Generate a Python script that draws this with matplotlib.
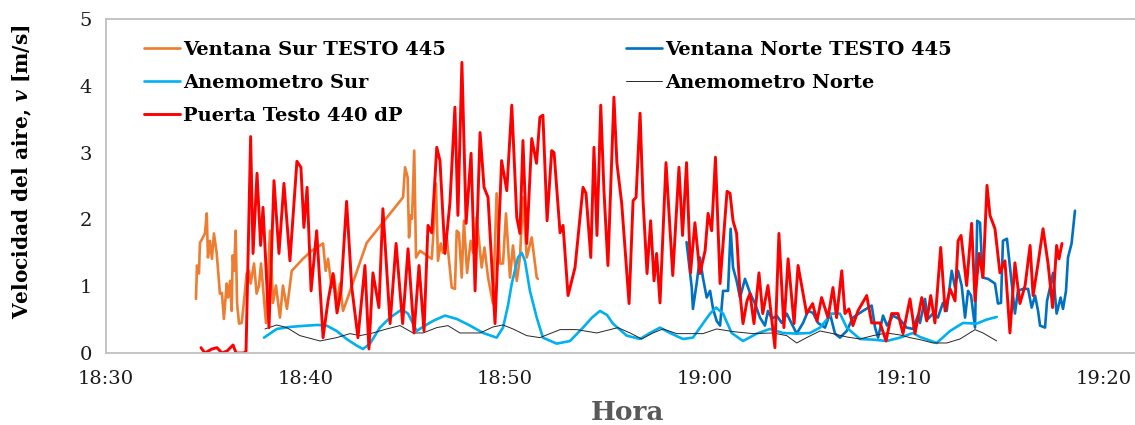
import matplotlib.pyplot as plt

# Time axis: minutes after 18:30
tick_minutes = [0, 10, 20, 30, 40, 50]
tick_labels = ["18:30", "18:40", "18:50", "19:00", "19:10", "19:20"]

# Ventana Sur TESTO 445
t_vsur = [4.51, 4.56, 4.66, 4.71, 4.86, 4.96, 5.05, 5.11, 5.21, 5.31, 5.41, 5.55, 5.71, 5.81,
          5.91, 6.05, 6.12, 6.22, 6.30, 6.35, 6.42, 6.50, 6.57, 6.67, 6.80, 6.92, 7.05, 7.17,
          7.25, 7.42, 7.55, 7.67, 7.77, 8.02, 8.22, 8.37, 8.52, 8.72, 8.87, 9.07, 9.31, 9.56,
          9.87, 10.31, 10.73, 10.88, 11.01, 11.13, 11.31, 11.43, 11.58, 11.73, 11.88, 12.06,
          13.07, 14.89, 14.99, 15.12, 15.19, 15.27, 15.34, 15.45, 15.54, 15.74, 16.08, 16.33,
          16.44, 16.54, 16.64, 16.78, 16.89, 17.08, 17.33, 17.49, 17.58, 17.69, 17.83, 17.94,
          18.10, 18.28, 18.40, 18.58, 18.83, 18.97, 19.15, 19.40, 19.58, 19.75, 19.90, 20.05,
          20.25, 20.40, 20.59, 20.75, 20.90, 21.09, 21.34, 21.59, 21.65]
v_vsur = [0.81, 1.31, 1.19, 1.65, 1.73, 1.79, 2.09, 1.43, 1.68, 1.41, 1.79, 1.49, 0.89, 0.90,
          0.51, 1.04, 0.83, 1.08, 0.63, 1.46, 1.23, 1.83, 0.74, 0.44, 0.45, 0.78, 1.19, 1.23,
          1.04, 1.34, 0.89, 1.01, 1.34, 0.45, 1.83, 0.75, 1.01, 0.53, 1.01, 0.66, 1.23, 1.31,
          1.41, 1.53, 1.61, 1.64, 1.23, 1.41, 0.98, 1.16, 0.74, 1.04, 0.63, 0.78,
          1.65, 2.33, 2.78, 2.63, 1.73, 2.06, 2.01, 3.03, 1.43, 1.53, 1.46, 1.41,
          1.94, 2.54, 1.38, 1.64, 1.50, 1.73, 0.98, 0.96, 1.83, 1.80, 1.13, 1.98,
          1.20, 1.68, 1.50, 2.03, 1.28, 1.58, 1.13, 0.74, 2.39, 1.34, 1.34, 2.09,
          1.13, 1.61, 1.08, 1.43, 2.33, 1.43, 1.73, 1.13, 1.11]

# Ventana Norte TESTO 445
t_vnorte = [29.10, 29.36, 29.42, 29.61, 29.77, 29.92, 30.11, 30.28, 30.43, 30.61, 30.78, 30.93,
            31.18, 31.31, 31.43, 31.61, 31.78, 32.03, 32.28, 32.53, 32.78, 33.03, 33.18, 33.38,
            33.62, 33.87, 34.12, 34.37, 34.62, 34.94, 35.19, 35.44, 35.69, 36.04, 36.29, 36.54,
            36.79, 37.13, 37.44, 37.94, 38.38, 38.55, 38.70, 38.95, 39.15, 39.45, 39.80, 40.13,
            40.45, 40.70, 40.80, 41.05, 41.20, 41.45, 41.70, 41.95, 42.14, 42.39, 42.56, 42.71,
            42.89, 43.06, 43.21, 43.36, 43.56, 43.67, 43.81, 43.94, 44.21, 44.56, 44.71, 44.86,
            44.96, 45.16, 45.40, 45.56, 45.71, 45.96, 46.22, 46.40, 46.57, 46.72, 46.82, 47.07,
            47.17, 47.32, 47.47, 47.65, 47.85, 47.97, 48.12, 48.22, 48.40, 48.57]
v_vnorte = [1.66, 0.98, 0.66, 1.05, 1.43, 1.13, 0.83, 0.93, 0.66, 0.48, 0.41, 0.93,
            0.93, 1.86, 1.28, 1.08, 0.83, 1.11, 0.90, 0.74, 0.53, 0.41, 0.63, 0.51,
            0.56, 0.45, 0.59, 0.44, 0.29, 0.45, 0.63, 0.60, 0.45, 0.38, 0.59, 0.29,
            0.23, 0.33, 0.53, 0.63, 0.71, 0.38, 0.23, 0.56, 0.41, 0.56, 0.50, 0.38,
            0.36, 0.56, 0.45, 0.81, 0.51, 0.59, 0.53, 0.75, 0.63, 1.23, 0.98, 1.23,
            1.01, 0.53, 0.93, 0.86, 0.38, 1.98, 1.95, 1.13, 1.11, 1.04, 0.74, 0.75,
            1.68, 1.71, 1.04, 0.59, 0.93, 0.96, 0.96, 0.68, 0.86, 0.63, 0.41, 0.38,
            0.78, 0.98, 1.20, 0.59, 0.83, 0.66, 0.93, 1.43, 1.64, 2.13]

# Anemometro Sur
t_asur = [7.92, 8.56, 9.22, 10.06, 10.63, 11.06, 11.56, 12.06, 12.57, 12.88, 13.23, 13.73,
          14.24, 14.82, 15.14, 15.57, 15.99, 16.39, 16.99, 17.58, 18.25, 18.90, 19.58, 19.90,
          20.15, 20.34, 20.65, 20.84, 21.00, 21.25, 21.59, 21.90, 22.59, 23.26, 23.91, 24.36,
          24.76, 25.11, 25.41, 26.10, 26.77, 27.27, 27.77, 28.27, 28.92, 29.42, 29.92, 30.28,
          30.58, 30.93, 31.36, 31.93, 32.62, 33.28, 33.93, 34.62, 35.29, 35.79, 36.38, 36.79,
          37.13, 37.79, 38.45, 39.13, 39.80, 40.45, 40.80, 41.64, 42.31, 42.96, 43.64, 44.14,
          44.65]
v_asur = [0.23, 0.36, 0.39, 0.41, 0.42, 0.41, 0.33, 0.21, 0.11, 0.06, 0.14, 0.38,
          0.53, 0.65, 0.59, 0.33, 0.41, 0.48, 0.56, 0.51, 0.41, 0.30, 0.23, 0.38,
          0.71, 1.04, 1.43, 1.50, 1.38, 0.93, 0.53, 0.23, 0.14, 0.18, 0.38, 0.53,
          0.63, 0.57, 0.44, 0.26, 0.21, 0.30, 0.38, 0.30, 0.21, 0.23, 0.44, 0.59,
          0.68, 0.59, 0.30, 0.18, 0.29, 0.36, 0.30, 0.29, 0.30, 0.38, 0.59, 0.59,
          0.38, 0.21, 0.20, 0.18, 0.23, 0.30, 0.24, 0.15, 0.33, 0.45, 0.44, 0.50,
          0.54]

# Anemometro Norte
t_anorte = [7.97, 8.56, 9.06, 9.72, 10.73, 11.56, 12.23, 12.73, 13.38, 14.07, 14.74, 15.39,
            15.89, 16.58, 17.14, 17.74, 18.75, 19.40, 19.90, 20.40, 21.09, 21.75, 22.76, 23.59,
            24.60, 25.66, 26.27, 26.85, 27.42, 27.92, 28.61, 29.27, 29.92, 30.61, 31.43, 32.43,
            33.43, 34.12, 34.62, 35.12, 35.79, 36.44, 37.13, 37.79, 38.45, 39.13, 39.80, 40.30,
            40.80, 41.45, 42.14, 42.81, 43.56, 43.96, 44.65]
v_anorte = [0.36, 0.42, 0.38, 0.26, 0.18, 0.23, 0.29, 0.26, 0.30, 0.36, 0.41, 0.30,
            0.30, 0.38, 0.41, 0.30, 0.30, 0.39, 0.42, 0.36, 0.26, 0.23, 0.35, 0.35,
            0.30, 0.38, 0.30, 0.21, 0.30, 0.36, 0.29, 0.29, 0.29, 0.36, 0.32, 0.29,
            0.30, 0.26, 0.15, 0.23, 0.33, 0.29, 0.24, 0.21, 0.26, 0.30, 0.27, 0.23,
            0.20, 0.15, 0.15, 0.21, 0.35, 0.30, 0.18]

# Puerta Testo 440 dP
t_puerta = [4.76, 4.96, 5.31, 5.56, 5.81, 6.07, 6.37, 6.52, 6.92, 7.02, 7.25, 7.37, 7.57, 7.75,
            7.87, 8.17, 8.42, 8.67, 8.92, 9.22, 9.57, 9.77, 9.92, 10.08, 10.28, 10.56, 10.88,
            11.13, 11.38, 11.58, 11.78, 12.06, 12.32, 12.63, 12.98, 13.18, 13.38, 13.68, 13.88,
            14.24, 14.54, 14.87, 15.14, 15.44, 15.69, 15.94, 16.14, 16.33, 16.58, 16.74, 16.99,
            17.24, 17.49, 17.64, 17.84, 18.05, 18.30, 18.50, 18.75, 18.95, 19.15, 19.50, 19.83,
            20.09, 20.34, 20.59, 20.75, 20.90, 21.09, 21.34, 21.58, 21.75, 21.90, 22.11, 22.34,
            22.46, 22.76, 22.91, 23.16, 23.51, 23.91, 24.06, 24.30, 24.46, 24.61, 24.80, 24.96,
            25.16, 25.46, 25.61, 25.85, 26.22, 26.42, 26.57, 26.77, 26.92, 27.12, 27.30, 27.47,
            27.60, 27.77, 28.07, 28.41, 28.72, 28.90, 29.10, 29.30, 29.52, 29.77, 30.03, 30.18,
            30.36, 30.55, 30.78, 31.13, 31.28, 31.43, 31.61, 31.78, 31.93, 32.13, 32.28, 32.48,
            32.73, 32.92, 33.18, 33.53, 33.73, 33.98, 34.19, 34.49, 34.69, 35.12, 35.42, 35.64,
            35.87, 36.19, 36.44, 36.62, 36.88, 37.04, 37.24, 37.44, 37.69, 38.13, 38.38, 38.80,
            39.10, 39.38, 39.70, 39.95, 40.30, 40.55, 40.89, 41.14, 41.34, 41.55, 41.84, 42.06,
            42.31, 42.56, 42.71, 42.86, 43.14, 43.39, 43.56, 43.76, 43.96, 44.16, 44.31, 44.56,
            44.81, 45.06, 45.31, 45.56, 45.81, 46.07, 46.32, 46.47, 46.72, 46.97, 47.22, 47.45,
            47.65, 47.77, 47.92]
v_puerta = [0.08, 0.00, 0.06, 0.08, 0.00, 0.03, 0.12, 0.00, 0.00, 0.03, 3.24, 1.49, 2.69, 1.61,
            2.18, 0.38, 2.58, 1.49, 2.54, 1.38, 2.87, 2.78, 1.88, 2.48, 0.93, 1.83, 0.23,
            0.78, 1.19, 0.60, 0.93, 2.27, 0.98, 0.23, 1.31, 0.06, 1.20, 0.68, 2.16,
            0.44, 1.64, 0.44, 1.56, 0.30, 1.31, 0.33, 1.91, 1.80, 3.08, 2.88, 1.49,
            2.25, 3.68, 2.06, 4.35, 1.94, 2.99, 0.93, 3.30, 2.48, 2.33, 0.44, 2.88,
            2.43, 3.71, 2.03, 1.79, 3.18, 1.64, 3.21, 2.84, 3.53, 3.56, 1.98, 3.03,
            3.00, 1.80, 1.91, 0.86, 1.28, 2.48, 2.39, 1.43, 3.08, 1.76, 3.71, 2.43,
            1.31, 3.83, 2.84, 2.24, 0.74, 2.28, 2.33, 3.59, 2.28, 1.19, 1.98, 1.08,
            1.49, 0.75, 2.85, 1.16, 2.78, 1.76, 2.85, 1.20, 1.95, 1.19, 1.53, 2.09,
            1.83, 2.93, 1.04, 2.42, 2.39, 1.98, 1.79, 0.89, 0.44, 0.78, 0.89, 0.44,
            1.20, 0.59, 1.01, 0.08, 1.79, 0.38, 1.41, 0.44, 1.31, 0.59, 0.74, 0.48,
            0.83, 0.53, 0.98, 0.53, 1.23, 0.59, 0.66, 0.41, 0.63, 0.86, 0.45, 0.45,
            0.18, 0.59, 0.59, 0.29, 0.81, 0.29, 0.83, 0.48, 0.86, 0.45, 1.58, 0.63,
            0.96, 0.78, 1.68, 1.76, 1.01, 1.94, 0.78, 1.49, 1.13, 2.51, 2.06, 1.86,
            1.20, 1.38, 0.30, 1.35, 0.74, 1.01, 1.61, 0.86, 1.34, 1.86, 1.34, 0.68,
            1.61, 1.41, 1.64]

plt.rcParams["font.family"] = ["DejaVu Serif"]
plt.rcParams["mathtext.fontset"] = "dejavuserif"

fig = plt.figure(figsize=(11.35, 4.25), dpi=100)
W, H = 1135, 425
x0, x1, y_top, y_bot = 106, 1135, 19, 353
ax = fig.add_axes([x0 / W, (H - y_bot) / H, (x1 - x0) / W, (y_bot - y_top) / H])

line_kw = dict(solid_joinstyle="round", solid_capstyle="round")
l_vsur, = ax.plot(t_vsur, v_vsur, color="#ED7D31", lw=1.9, **line_kw)
l_vnorte, = ax.plot(t_vnorte, v_vnorte, color="#0070C0", lw=1.9, **line_kw)
l_asur, = ax.plot(t_asur, v_asur, color="#00B0F0", lw=1.9, **line_kw)
l_anorte, = ax.plot(t_anorte, v_anorte, color="#262626", lw=0.7, **line_kw)
l_puerta, = ax.plot(t_puerta, v_puerta, color="#FF0000", lw=2.1, **line_kw)

ax.set_xlim(0, (x1 - x0) / 19.95)
ax.set_ylim(0, 5)
ax.set_xticks(tick_minutes)
ax.set_xticklabels(tick_labels)
ax.set_yticks(range(6))
ax.tick_params(axis="both", length=0, labelsize=14, colors="#1a1a1a")
ax.tick_params(axis="x", pad=12)
ax.tick_params(axis="y", pad=10)

for side in ["left", "bottom", "top"]:
    ax.spines[side].set_color("#BFBFBF")
    ax.spines[side].set_linewidth(1.3)
ax.spines["right"].set_visible(False)

ax.set_ylabel(r"Velocidad del aire, $\mathbfit{v}$ [m/s]", fontsize=14.5,
              fontweight="bold")
ax.yaxis.set_label_coords(-(106 - 22) / (x1 - x0), (y_bot - 172) / (y_bot - y_top))
ax.set_xlabel("Hora", fontsize=19, fontweight="bold", color="#595959")
ax.xaxis.set_label_coords((628 - x0) / (x1 - x0), -(412 - y_bot) / (y_bot - y_top))
ax.xaxis.label.set_va("center")
ax.yaxis.label.set_va("center")

leg_kw = dict(frameon=False, handlelength=1.85, handletextpad=0.15, labelspacing=0.78,
              borderpad=0, borderaxespad=0, prop={"weight": "bold", "size": 14})
leg1 = ax.legend([l_vsur, l_asur, l_puerta],
                 ["Ventana Sur TESTO 445", "Anemometro Sur", "Puerta Testo 440 dP"],
                 loc="upper left", bbox_to_anchor=((144 - x0) / (x1 - x0), 0.935), **leg_kw)
ax.add_artist(leg1)
ax.legend([l_vnorte, l_anorte],
          ["Ventana Norte TESTO 445", "Anemometro Norte"],
          loc="upper left", bbox_to_anchor=((626 - x0) / (x1 - x0), 0.935), **leg_kw)

fig.savefig("out.png", dpi=100)
